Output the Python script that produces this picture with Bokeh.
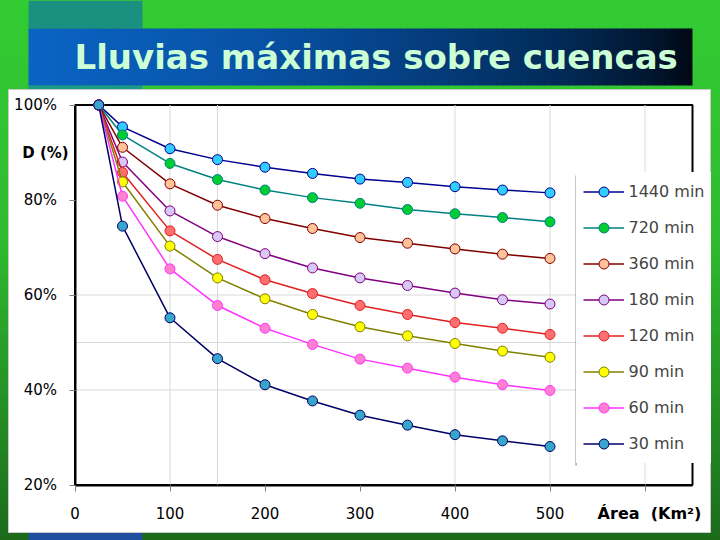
from bokeh.plotting import figure
from bokeh.models import FixedTicker, PrintfTickFormatter, BoxAnnotation, Label, Range1d
from bokeh.embed import file_html
from bokeh.resources import INLINE

# ---------------- data ----------------
area = [25, 50, 100, 150, 200, 250, 300, 350, 400, 450, 500]
d1440 = [100, 95.4, 90.8, 88.5, 86.9, 85.6, 84.4, 83.7, 82.8, 82.1, 81.5]
d720 = [100, 93.7, 87.7, 84.3, 82.1, 80.5, 79.3, 78.0, 77.1, 76.3, 75.4]
d360 = [100, 91.1, 83.4, 78.9, 76.1, 74.0, 72.1, 70.9, 69.7, 68.6, 67.7]
d180 = [100, 88.0, 77.7, 72.3, 68.7, 65.7, 63.6, 62.0, 60.4, 59.0, 58.1]
d120 = [100, 85.8, 73.5, 67.5, 63.2, 60.3, 57.8, 55.9, 54.2, 53.0, 51.7]
d90 = [100, 83.8, 70.3, 63.6, 59.2, 55.9, 53.3, 51.4, 49.8, 48.2, 46.9]
d60 = [100, 80.8, 65.5, 57.8, 53.0, 49.6, 46.5, 44.6, 42.7, 41.1, 39.9]
d30 = [100, 74.5, 55.2, 46.6, 41.1, 37.7, 34.7, 32.6, 30.6, 29.3, 28.1]
labels = ["1440 min", "720 min", "360 min", "180 min", "120 min", "90 min", "60 min", "30 min"]
x_ticks = [0, 100, 200, 300, 400, 500, 600]
y_ticks = [20, 40, 60, 80, 100]
x_lim = (0, 650)
y_lim = (20, 100)
title_text = "Lluvias máximas sobre cuencas"
y_title = "D (%)"
x_title = "Área\u00a0 (Km²)"

# ---------------- styles / layout ----------------
line_colors = ["#000090", "#008080", "#800000", "#800080", "#e02020", "#808000", "#ff33ff", "#000066"]
fill_colors = ["#33ccff", "#00cc33", "#ffc299", "#d8c8f5", "#ff6f6f", "#ffff00", "#ff80d0", "#38a6cc"]
grid_x = [100, 150, 400, 500, 600]
grid_y = [40, 50, 60]
FONT = "DejaVu Sans"
W, H = 720, 540
# pixel anchors of the plot area on the canvas
PX_X0, PX_X1 = 74.5, 692.0    # x = 0 .. 650
PX_Y0, PX_Y1 = 484.5, 104.5   # y = 20 .. 100
sx = (PX_X1 - PX_X0) / (x_lim[1] - x_lim[0])
sy = (PX_Y0 - PX_Y1) / (y_lim[1] - y_lim[0])
xr = Range1d(x_lim[0] - PX_X0 / sx, x_lim[1] + (W - PX_X1) / sx)
yr = Range1d(y_lim[0] - (H - PX_Y0) / sy, y_lim[1] + PX_Y1 / sy)

p = figure(width=W, height=H, output_backend="svg", toolbar_location=None,
           x_range=xr, y_range=yr, min_border=0,
           min_border_left=0, min_border_right=0, min_border_top=0, min_border_bottom=0,
           border_fill_color=None, background_fill_color=None, outline_line_color=None)
p.title.visible = False
p.xgrid.visible = False
p.ygrid.visible = False

def box(l, r, t, b, color, line_color=None, level="underlay"):
    p.add_layout(BoxAnnotation(left=l, right=r, top=t, bottom=b,
                               left_units="canvas", right_units="canvas",
                               top_units="canvas", bottom_units="canvas",
                               fill_color=color, fill_alpha=1,
                               line_color=line_color, line_alpha=1 if line_color else 0,
                               level=level))

# slide decorations
box(28, 142, 0, 28, "#1a9080")
box(28, 142, 85, 89, "#1a9a8a")
box(28, 142, 532, 540, "#1f4f9f")
box(8, 710, 89, 532, "white", "#c8c8c8")
stops = [(28, (10, 100, 196)), (250, (8, 82, 166)), (400, (5, 64, 132)),
         (550, (2, 44, 90)), (650, (1, 22, 48)), (692, (0, 8, 20))]
def grad(x):
    for (x0, c0), (x1, c1) in zip(stops[:-1], stops[1:]):
        if x0 <= x <= x1:
            t = (x - x0) / (x1 - x0)
            return "#%02x%02x%02x" % tuple(int(round(a + (b - a) * t)) for a, b in zip(c0, c1))
    return "#%02x%02x%02x" % stops[-1][1]
step = 6
xs = 28
while xs < 692:
    xe = min(xs + step + 0.6, 692)
    box(xs, xe, 28, 85, grad(xs + step / 2))
    xs += step

# plot-area frame (top/right border)
p.add_layout(BoxAnnotation(left=x_lim[0], right=x_lim[1], bottom=y_lim[0], top=y_lim[1],
                           fill_alpha=0, line_color="black", line_width=2, line_alpha=1,
                           level="underlay"))

# light grid lines within the plot area
p.segment(x0=grid_x, y0=[y_lim[0]] * len(grid_x), x1=grid_x, y1=[y_lim[1]] * len(grid_x),
          line_color="#d9d9d9", line_width=1)
p.segment(x0=[x_lim[0]] * len(grid_y), y0=grid_y, x1=[x_lim[1]] * len(grid_y), y1=grid_y,
          line_color="#d9d9d9", line_width=1)

for name, vals, lc, fc in zip(labels, [d1440, d720, d360, d180, d120, d90, d60, d30], line_colors, fill_colors):
    p.line(area, vals, line_color=lc, line_width=1.5, legend_label=name)
    p.scatter(area, vals, size=10, fill_color=fc, line_color=lc, line_width=1, legend_label=name)

# axes, drawn at fixed positions inside the canvas
xa, ya = p.xaxis[0], p.yaxis[0]
xa.fixed_location = y_lim[0]
xa.bounds = x_lim
ya.fixed_location = x_lim[0]
ya.bounds = y_lim
for ax in (xa, ya):
    ax.axis_line_color = "black"
    ax.axis_line_width = 2
    ax.major_tick_in = 0
    ax.major_tick_out = 6
    ax.major_tick_line_color = "#808080"
    ax.minor_tick_line_color = None
    ax.major_label_text_font = FONT
    ax.major_label_text_font_size = "15px"
    ax.major_label_text_color = "black"
xa.ticker = FixedTicker(ticks=x_ticks)
xa.major_label_overrides = {600: ""}
xa.major_label_standoff = 16
ya.ticker = FixedTicker(ticks=y_ticks)
ya.formatter = PrintfTickFormatter(format="%d%%")
ya.major_label_standoff = 12

# legend
lg = p.legend[0]
lg.location = (575.5, 77)
lg.margin = 0
lg.padding = 7
lg.spacing = 11
lg.glyph_height = 25
lg.glyph_width = 41
lg.label_height = 25
lg.label_standoff = 5
lg.label_text_font = FONT
lg.label_text_font_size = "16px"
lg.border_line_alpha = 0
lg.background_fill_color = "white"
lg.background_fill_alpha = 1

box(575, 576.2, 175, 465, "#909090", level="annotation")

p.add_layout(Label(x=74, y=56, x_units="canvas", y_units="canvas", text=title_text,
                   text_font=FONT, text_font_style="bold", text_font_size="34px",
                   text_color="#ccffd5", text_align="left", text_baseline="middle"))
p.add_layout(Label(x=45, y=152, x_units="canvas", y_units="canvas", text=y_title,
                   text_font=FONT, text_font_style="bold", text_font_size="15px",
                   text_color="black", text_align="center", text_baseline="middle"))
p.add_layout(Label(x=649, y=513, x_units="canvas", y_units="canvas", text=x_title,
                   text_font=FONT, text_font_style="bold", text_font_size="16px",
                   text_color="black", text_align="center", text_baseline="middle"))

html = file_html(p, INLINE, title=title_text)
css = ("<style>html{min-height:100%;background:"
       "linear-gradient(#33cc33,#2fba2f 45%,#1b6b1b);}"
       "body{background:transparent;}</style>")
html = html.replace("</head>", css + "</head>", 1)
with open("out.html", "w", encoding="utf-8") as f:
    f.write(html)
